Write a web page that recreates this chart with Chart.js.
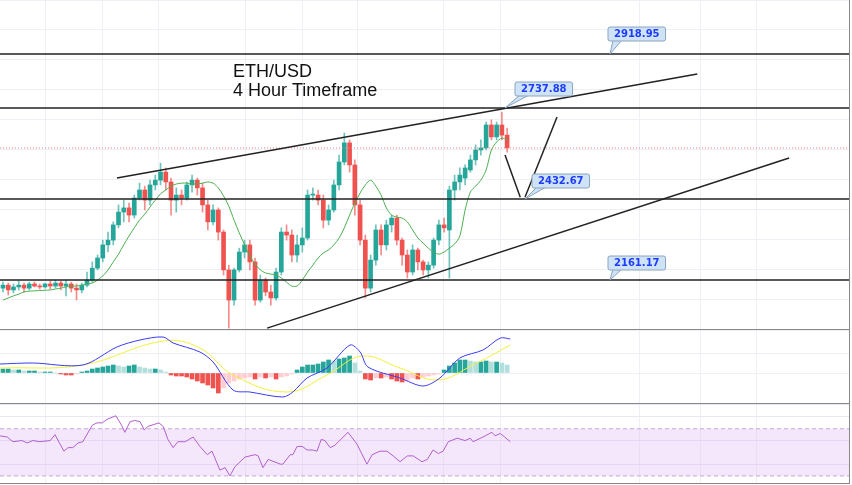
<!DOCTYPE html>
<html>
<head>
<meta charset="utf-8">
<script src="https://cdn.jsdelivr.net/npm/chart.js@4/dist/chart.umd.min.js"></script>
<style>
  body { margin: 0; background: #fff; }
  #wrap { position: relative; width: 852px; height: 485px; overflow: hidden; }
  .pane { position: absolute; left: 0; width: 849px; border-right: 1px solid #888; }
  #p1 { top: 0; height: 329px; border-bottom: 1px solid #888; }
  #p2 { top: 330px; height: 73px; border-bottom: 1px solid #888; }
  #p3 { top: 404px; height: 79px; border-bottom: 1px solid #888; }
</style>
</head>
<body>
<div id="wrap">
  <div class="pane" id="p1"><canvas id="chart1" width="849" height="329"></canvas></div>
  <div class="pane" id="p2"><canvas id="chart2" width="849" height="73"></canvas></div>
  <div class="pane" id="p3"><canvas id="chart3" width="849" height="79"></canvas></div>
</div>
<script>
// ETH/USD 4h candles (open, high, low, close)
const opens = [2134,2144,2128,2138,2144,2134,2148,2141,2138,2148,2141,2151,2141,2148,2134,2128,2144,2161,2201,2235,2279,2295,2346,2389,2403,2379,2436,2463,2429,2480,2496,2523,2490,2429,2446,2436,2480,2496,2470,2413,2356,2396,2322,2195,2094,2195,2255,2279,2222,2094,2161,2121,2101,2188,2322,2312,2245,2279,2302,2446,2446,2429,2362,2396,2480,2557,2621,2547,2413,2295,2134,2228,2329,2279,2346,2369,2295,2245,2188,2262,2222,2195,2211,2295,2346,2329,2463,2490,2503,2530,2564,2597,2604,2681,2641,2681,2647]
const highs = [2154,2151,2148,2158,2151,2154,2155,2148,2151,2158,2161,2158,2161,2154,2148,2151,2188,2222,2245,2295,2322,2356,2413,2429,2419,2446,2486,2476,2496,2513,2553,2537,2503,2470,2463,2490,2513,2503,2486,2429,2413,2403,2329,2211,2201,2268,2295,2295,2235,2178,2168,2144,2201,2336,2346,2329,2312,2336,2463,2470,2463,2446,2413,2496,2580,2654,2631,2564,2429,2312,2245,2346,2346,2362,2379,2379,2302,2262,2279,2268,2228,2222,2302,2362,2369,2476,2513,2537,2547,2580,2614,2631,2691,2698,2691,2724,2671]
const lows = [2121,2111,2118,2128,2121,2128,2138,2131,2134,2131,2134,2128,2108,2121,2094,2118,2138,2154,2195,2222,2255,2279,2336,2356,2356,2369,2429,2396,2413,2463,2480,2463,2379,2389,2413,2429,2456,2446,2389,2329,2346,2295,2178,2000,2077,2188,2235,2195,2077,2087,2108,2077,2094,2178,2295,2222,2222,2255,2295,2429,2413,2336,2346,2389,2463,2547,2523,2379,2279,2101,2121,2211,2245,2262,2322,2279,2211,2168,2178,2195,2178,2168,2201,2279,2322,2168,2429,2463,2480,2523,2547,2580,2597,2631,2631,2631,2590]
const closes = [2144,2128,2138,2144,2134,2148,2141,2138,2148,2141,2151,2141,2148,2134,2128,2144,2161,2201,2235,2279,2295,2346,2389,2403,2379,2436,2463,2429,2480,2496,2523,2490,2429,2446,2436,2480,2496,2470,2413,2356,2396,2322,2195,2094,2195,2255,2279,2222,2094,2161,2121,2101,2188,2322,2312,2245,2279,2302,2446,2446,2429,2362,2396,2480,2557,2621,2547,2413,2295,2134,2228,2329,2279,2346,2369,2295,2245,2188,2262,2222,2195,2211,2295,2346,2336,2463,2490,2513,2537,2564,2597,2604,2681,2641,2681,2647,2604]
const maValues = [2094,2101,2108,2114,2121,2124,2125,2126,2127,2128,2131,2134,2138,2141,2141,2144,2148,2151,2161,2175,2195,2222,2248,2279,2309,2336,2362,2382,2406,2429,2450,2463,2476,2483,2486,2486,2483,2483,2486,2490,2486,2470,2443,2409,2362,2319,2279,2242,2215,2195,2185,2181,2178,2168,2154,2141,2141,2161,2188,2211,2235,2252,2262,2279,2302,2336,2379,2419,2453,2480,2496,2476,2446,2403,2379,2372,2369,2356,2329,2302,2285,2268,2255,2248,2255,2268,2282,2309,2396,2456,2476,2496,2530,2597,2624,2637,2631]

// MACD
const macdHist = [4,4,3,3,2,2,2,1,1,1,0,-1,-2,-2,-1,1,2,4,5,6,7,8,7,6,7,8,6,5,4,4,3,1,-2,-3,-3,-4,-6,-8,-10,-12,-15,-20,-15,-10,-8,-6,-5,-4,-6,-4,-5,-4,-6,-4,-3,-1,3,6,8,8,9,11,13,12,14,15,17,10,2,-6,-7,-5,-5,-4,-6,-8,-9,-8,-5,-6,-4,-3,-2,-1,3,7,10,13,13,12,11,11,12,11,11,10,8]
const macdIdx = [-0.6,5.7,15.2,21.7,26.1,30.5,32.4,37.5,40,43.8,47,53.3,55.2,57.9,61.7,66.1,68,69.5,75.6,80,83.2,87,91.4,94.7,96.6]
const macdLine = [9,10,8,26,33,36,30,21,11,-17,-19,-24,-19,-5,5,28,21,6,-5,-13,-5,15,23,35,34]
const signalIdx = [-0.6,15.2,30.5,37.5,43.8,54.1,61.7,68.4,75.6,82.7,89.5,96.6]
const signalLine = [5,8,32,25,-2,-19,-2,17,5,-7,8,28]

// RSI
const rsiIdx = [-0.6,0.8,1.9,3.6,4.6,5.7,7,9,9.9,11.6,12.4,13.3,14.3,15.2,17,17.9,18.9,19.8,21.5,22.7,23.2,24.2,25.1,26.1,26.9,27.6,29.7,30.5,31.4,32.4,33.3,34.7,36.2,37.5,38.9,39.8,41.3,42.3,43.2,44.2,46.1,48,48.6,49.5,50.5,52.8,53.3,54.7,55.2,56,57,57.9,59,59.8,60.6,61.3,62.3,63.2,65.7,67.4,69.3,70.3,71.8,73.1,74.3,75.6,77,78.1,79.8,80.8,81.9,82.9,83.8,84.8,86.5,88,89,89.5,91.4,93.1,93.7,94.7,96.6]
const rsiValues = [64,63,59,60,58,60,59,60,65,51,54,54,58,59,73,75,75,78,81,72,67,76,77,76,69,72,75,72,61,54,59,59,63,55,48,51,35,37,30,38,46,48,47,37,44,40,40,48,48,55,55,52,52,51,61,60,54,56,67,57,40,48,51,51,47,42,47,47,42,44,52,49,51,59,62,60,62,59,63,67,64,66,59]

// support / resistance levels and trend lines
const levels = [2918.95, 2737.88, 2432.67, 2161.17]
const upperTrend = [[21.7, 2503], [132.2, 2852]]
const lowerTrend = [[50.3, 2000], [149.7, 2570]]
const zigzag = [[95.6, 2580], [98.5, 2439], [99.4, 2439], [105.5, 2708]]
const gridIdx = [8, 19, 29.7, 46.1, 57, 67.6, 83.8, 94.7, 121.3, 132.8, 143.4]

const UP = '#26a69a'
const DOWN = '#ef5350'
const xMin = -0.57
const xMax = 161.1

const candleColor = (i) => (closes[i] >= opens[i] ? UP : DOWN)
const xScale = {
    type: 'linear',
    min: xMin,
    max: xMax,
    offset: false,
    ticks: { display: false },
    border: { display: false },
    grid: { color: '#edf1f5', drawTicks: false, offset: false },
    afterBuildTicks: (s) => { s.ticks = gridIdx.map((v) => ({ value: v })) },
}

const overlay = {
    id: 'overlay',
    afterDatasetsDraw(chart) {
        const { ctx, scales: { x, y } } = chart
        const px = (v) => x.getPixelForValue(v)
        const py = (v) => y.getPixelForValue(v)
        ctx.save()
        // current price dotted
        ctx.strokeStyle = '#f08080'
        ctx.setLineDash([1, 2])
        ctx.lineWidth = 1
        ctx.beginPath(); ctx.moveTo(0, py(closes[closes.length - 1])); ctx.lineTo(849, py(closes[closes.length - 1])); ctx.stroke()
        ctx.setLineDash([])
        ctx.strokeStyle = '#222'
        ctx.lineWidth = 1.5
        levels.forEach((l) => {
            ctx.beginPath(); ctx.moveTo(0, py(l)); ctx.lineTo(849, py(l)); ctx.stroke()
        })
        const poly = (pts) => {
            ctx.beginPath()
            pts.forEach((p, k) => (k ? ctx.lineTo(px(p[0]), py(p[1])) : ctx.moveTo(px(p[0]), py(p[1]))))
            ctx.stroke()
        }
        poly(upperTrend)
        poly(lowerTrend)
        poly(zigzag.slice(0, 2))
        poly(zigzag.slice(2))
        // callout labels
        const labels = [
            [levels[0], 610, 608, 27],
            [levels[1], 505, 515, 82],
            [levels[2], 525, 532, 174],
            [levels[3], 610, 608, 256],
        ]
        ctx.font = 'bold 10px "DejaVu Sans"'
        labels.forEach(([val, tx, bx, by]) => {
            const txt = val.toFixed(2)
            const w = ctx.measureText(txt).width + 12
            ctx.fillStyle = '#cfe3f7'
            ctx.strokeStyle = '#8aa4bf'
            ctx.lineWidth = 1
            ctx.beginPath(); ctx.moveTo(tx, py(val)); ctx.lineTo(bx + 5, by + 13); ctx.lineTo(bx + 14, by + 13); ctx.closePath(); ctx.fill(); ctx.stroke()
            ctx.beginPath(); ctx.roundRect(bx, by, w, 14, 2); ctx.fill(); ctx.stroke()
            ctx.fillStyle = '#1e3cff'
            ctx.textBaseline = 'middle'
            ctx.fillText(txt, bx + 6, by + 7.5)
        })
        ctx.fillStyle = '#111'
        ctx.font = '18px "Liberation Sans"'
        ctx.textBaseline = 'alphabetic'
        ctx.fillText('ETH/USD', 233, 77)
        ctx.fillText('4 Hour Timeframe', 233, 96)
        ctx.restore()
    },
}

new Chart(document.getElementById('chart1'), {
    type: 'bar',
    data: {
        datasets: [
            {
                type: 'line',
                data: maValues.map((v, i) => ({ x: i, y: v })),
                borderColor: '#4caf50',
                borderWidth: 1,
                pointRadius: 0,
                tension: 0.3,
            },
            {
                data: lows.map((v, i) => ({ x: i, y: [v, highs[i]] })),
                backgroundColor: closes.map((c, i) => candleColor(i) + 'aa'),
                barThickness: 1,
                grouped: false,
            },
            {
                data: opens.map((v, i) => ({ x: i, y: [v, closes[i]] })),
                backgroundColor: closes.map((c, i) => candleColor(i)),
                barThickness: 4,
                minBarLength: 1,
                grouped: false,
            },
        ],
    },
    options: {
        responsive: false,
        animation: false,
        layout: { padding: 0 },
        plugins: { legend: { display: false }, tooltip: { enabled: false } },
        scales: {
            x: xScale,
            y: {
                min: 1997,
                max: 3100,
                ticks: { display: false, stepSize: 100 },
                border: { display: false },
                grid: { color: '#edf1f5', drawTicks: false },
            },
        },
    },
    plugins: [overlay],
})

new Chart(document.getElementById('chart2'), {
    type: 'bar',
    data: {
        datasets: [
            {
                type: 'line',
                data: macdIdx.map((v, i) => ({ x: v, y: macdLine[i] })),
                borderColor: '#3b3bf5',
                borderWidth: 1,
                pointRadius: 0,
                tension: 0.3,
            },
            {
                type: 'line',
                data: signalIdx.map((v, i) => ({ x: v, y: signalLine[i] })),
                borderColor: '#f2f23a',
                borderWidth: 1,
                pointRadius: 0,
                tension: 0.4,
            },
            {
                data: macdHist.map((v, i) => ({ x: i, y: v })),
                backgroundColor: macdHist.map((v, i) => {
                    const prev = i ? macdHist[i - 1] : v
                    if (v >= 0) return v >= prev ? '#26a69a' : '#b2dfdb'
                    return v <= prev ? '#ef5350' : '#ffcdd2'
                }),
                barThickness: 4,
            },
        ],
    },
    options: {
        responsive: false,
        animation: false,
        plugins: { legend: { display: false }, tooltip: { enabled: false } },
        scales: {
            x: xScale,
            y: {
                min: -30,
                max: 43,
                ticks: { display: false, stepSize: 20 },
                border: { display: false },
                grid: { color: '#edf1f5', drawTicks: false },
            },
        },
    },
})

const rsiBand = {
    id: 'rsiBand',
    beforeDatasetsDraw(chart) {
        const { ctx, scales: { y } } = chart
        const t = y.getPixelForValue(70)
        const b = y.getPixelForValue(30)
        ctx.save()
        ctx.fillStyle = 'rgba(215, 170, 245, 0.28)'
        ctx.fillRect(0, t, 849, b - t)
        ctx.strokeStyle = '#c9a6d6'
        ctx.setLineDash([4, 3])
        ctx.beginPath(); ctx.moveTo(0, t); ctx.lineTo(849, t); ctx.moveTo(0, b); ctx.lineTo(849, b); ctx.stroke()
        ctx.restore()
    },
}

new Chart(document.getElementById('chart3'), {
    type: 'line',
    data: {
        datasets: [
            {
                data: rsiIdx.map((v, i) => ({ x: v, y: rsiValues[i] })),
                borderColor: '#b15fcf',
                borderWidth: 1,
                pointRadius: 0,
            },
        ],
    },
    options: {
        responsive: false,
        animation: false,
        plugins: { legend: { display: false }, tooltip: { enabled: false } },
        scales: {
            x: xScale,
            y: {
                min: 24,
                max: 91,
                ticks: { display: false, stepSize: 20 },
                border: { display: false },
                grid: { color: '#ece6f2', drawTicks: false },
            },
        },
    },
    plugins: [rsiBand],
})
</script>
</body>
</html>
